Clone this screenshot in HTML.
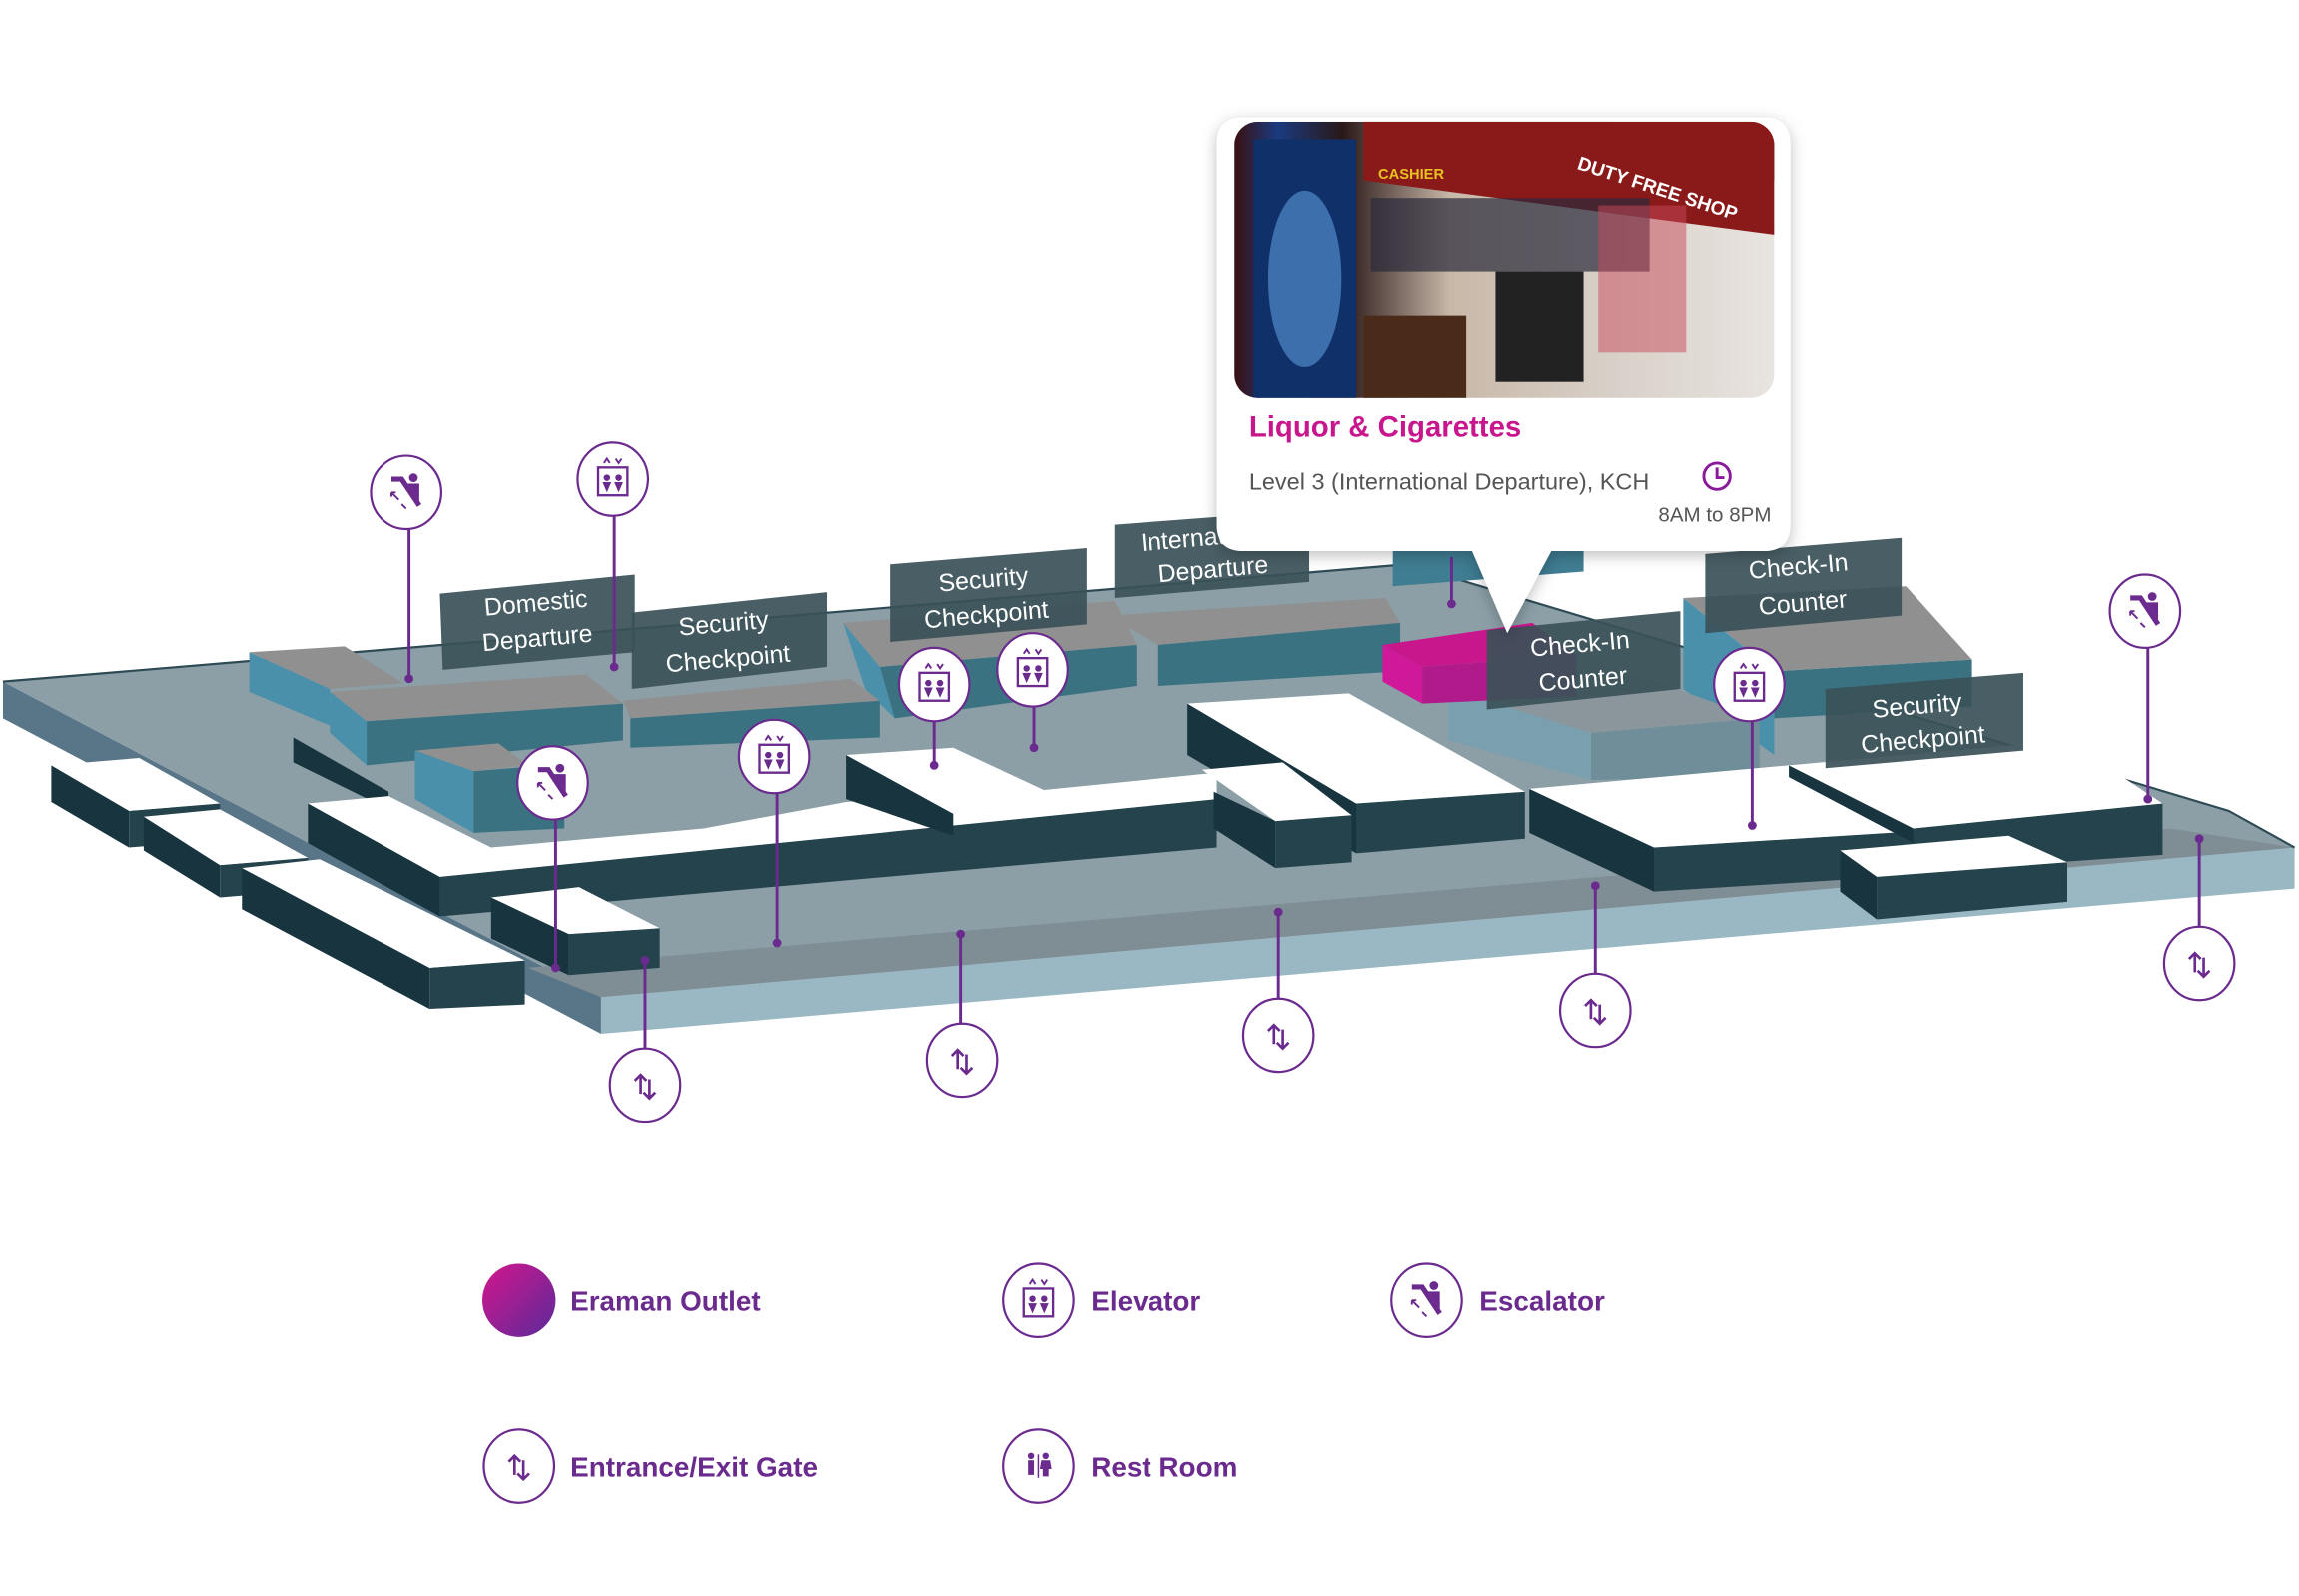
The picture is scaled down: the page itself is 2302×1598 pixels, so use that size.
<!DOCTYPE html>
<html><head><meta charset="utf-8"><style>
html,body{margin:0;padding:0;background:#fff;}
svg{display:block;}
.lbl{font-family:"Liberation Sans",sans-serif;font-size:17px;fill:#fff;}
.lg{font-family:"Liberation Sans",sans-serif;font-size:19px;font-weight:bold;fill:#6b2a8e;}
</style></head><body>
<svg width="2302" height="1598" viewBox="0 0 1568 1088.5" xmlns="http://www.w3.org/2000/svg">
<defs>
<linearGradient id="eg" x1="0" y1="0" x2="1" y2="1"><stop offset="0" stop-color="#d4168c"/><stop offset="1" stop-color="#5a2a9a"/></linearGradient>
<linearGradient id="img" x1="0" y1="0" x2="1" y2="0"><stop offset="0" stop-color="#3a1010"/><stop offset="0.08" stop-color="#1a3a80"/><stop offset="0.2" stop-color="#2a1818"/><stop offset="0.4" stop-color="#c8b8a8"/><stop offset="0.7" stop-color="#d8d0c8"/><stop offset="1" stop-color="#e8e4e0"/></linearGradient>
<clipPath id="ic"><rect x="842" y="83" width="368" height="188" rx="16"/></clipPath>
<filter id="sh" x="-10%" y="-10%" width="120%" height="130%"><feDropShadow dx="0" dy="3" stdDeviation="5" flood-opacity="0.25"/></filter>
<g id="esc"><path d="M-10,-9 L-3,-9 L9,9" stroke="#6b2a8e" stroke-width="3.5" fill="none"/><circle cx="5" cy="-10" r="3" fill="#6b2a8e"/><path d="M1,-6 L9,-6 L9,6 Z" fill="#6b2a8e"/><path d="M-10,0 l5,5 M-10,0 l0,3 M-10,0 l3,0 M-3,8 l3,3" stroke="#6b2a8e" stroke-width="1.3" fill="none"/></g>
<g id="elv"><rect x="-10" y="-8" width="20" height="19" fill="none" stroke="#6b2a8e" stroke-width="1.6"/><circle cx="-4" cy="-1" r="2.2" fill="#6b2a8e"/><circle cx="4" cy="-1" r="2.2" fill="#6b2a8e"/><path d="M-7,2 L-1,2 L-4,9Z M1,2 L7,2 L4,9Z" fill="#6b2a8e"/><path d="M-6,-11 l2,-3 l2,3 M2,-14 l2,3 l2,-3" stroke="#6b2a8e" stroke-width="1.3" fill="none"/></g>
<g id="gate"><path d="M-3,6 L-3,-7 M-7,-3 L-3,-7 L1,-3 M3,-4 L3,9 M-1,5 L3,9 L7,5" stroke="#6b2a8e" stroke-width="1.8" fill="none"/></g>
</defs>

<!-- floor slab -->
<polygon points="2,465 2,490 410,705 410,680" fill="#587688"/>
<polygon points="410,680 1565,578 1565,606 410,705" fill="#9ab7c4"/>
<polygon points="2,465 960,385 1520,553 1565,578 410,680" fill="#8c9fa7"/>
<polygon points="360,660 1480,565 1565,578 410,680" fill="#7f8d95"/>
<polyline points="2,465 960,385 1520,553 1565,578" fill="none" stroke="#2d4a55" stroke-width="1.5"/>

<!-- blue buildings -->
<g>
<polygon points="950,375 1080,372 1080,390 950,400" fill="#3f7d93"/>
<polygon points="575,425 760,410 775,440 600,455" fill="#909090"/>
<polygon points="600,455 775,440 775,468 610,490" fill="#3b7282"/>
<polygon points="575,425 600,455 610,490 590,470" fill="#4a90aa"/>
<polygon points="755,420 945,408 955,425 790,440" fill="#909090"/>
<polygon points="790,440 955,425 955,458 790,468" fill="#3b7282"/>
<polygon points="1148,408 1300,400 1345,450 1210,458" fill="#909090"/>
<polygon points="1210,458 1345,450 1345,482 1210,490" fill="#3b7282"/>
<polygon points="1148,408 1210,458 1210,515 1148,470" fill="#4a90aa"/>
<polygon points="170,445 235,441 275,466 225,470" fill="#909090"/>
<polygon points="170,445 225,470 225,495 170,472" fill="#4a90aa"/>
<polygon points="225,472 400,460 425,480 250,492" fill="#909090"/>
<polygon points="250,492 425,480 425,505 250,522" fill="#3b7282"/>
<polygon points="225,472 250,492 250,522 225,500" fill="#4a90aa"/>
<polygon points="425,478 580,463 600,478 430,490" fill="#909090"/>
<polygon points="430,490 600,478 600,503 430,510" fill="#3b7282"/>
<polygon points="283,512 340,507 360,522 323,526" fill="#909090"/>
<polygon points="323,526 385,521 385,565 323,568" fill="#3b7282"/>
<polygon points="283,512 323,526 323,568 283,545" fill="#4a90aa"/>
<polygon points="988,470 1100,455 1200,490 1085,500" fill="#8a969c"/>
<polygon points="1085,500 1200,490 1200,530 1085,532" fill="#6f8e9a"/>
<polygon points="988,470 1085,500 1085,532 988,505" fill="#7aa0b0"/>
<polygon points="943,440 1045,425 1075,447 970,455" fill="#c8168c"/>
<polygon points="970,455 1075,447 1075,475 970,480" fill="#b01a8a"/>
<polygon points="943,440 970,455 970,480 943,465" fill="#d0189a"/>
</g>

<!-- dark blocks -->
<g fill="#17343f">
<polygon points="35,522 88,553 88,578 35,547"/><polygon points="88,553 150,548 150,573 88,578" fill="#25434c"/><polygon points="35,522 95,517 150,548 88,553" fill="#fff"/>
<polygon points="98,557 150,590 150,612 98,580"/><polygon points="150,590 210,585 210,607 150,612" fill="#25434c"/><polygon points="98,557 150,552 210,585 150,590" fill="#fff"/>
<polygon points="165,592 293,660 293,688 165,620"/><polygon points="293,660 358,655 358,685 293,688" fill="#25434c"/><polygon points="165,592 218,586 358,655 293,660" fill="#fff"/>
<polygon points="200,503 265,540 265,552 200,520"/>
<polygon points="210,548 300,598 300,625 210,575"/>
<polygon points="300,598 830,545 830,578 300,625" fill="#25434c"/>
<polygon points="210,548 265,543 335,578 480,565 577,547 700,540 830,527 830,545 300,598" fill="#fff"/>
<polygon points="335,612 388,637 388,665 335,640"/><polygon points="388,637 450,633 450,660 388,665" fill="#25434c"/><polygon points="335,612 395,605 450,633 388,637" fill="#fff"/>
<polygon points="577,515 650,555 650,570 577,545"/><polygon points="577,515 650,510 725,545 650,555" fill="#fff"/>
<polygon points="810,480 925,548 925,582 810,515"/><polygon points="925,548 1040,540 1040,572 925,582" fill="#25434c"/><polygon points="810,480 920,473 1040,540 925,548" fill="#fff"/>
<polygon points="828,540 870,560 870,592 828,565"/><polygon points="870,560 922,556 922,588 870,592" fill="#25434c"/><polygon points="820,525 875,520 922,556 870,560" fill="#fff"/>
<polygon points="1043,538 1128,578 1128,608 1043,568"/><polygon points="1128,578 1305,567 1305,597 1128,608" fill="#25434c"/><polygon points="1043,538 1220,522 1305,567 1128,578" fill="#fff"/>
<polygon points="1220,522 1305,565 1305,575 1220,530"/><polygon points="1305,565 1475,548 1475,583 1305,595" fill="#25434c"/><polygon points="1220,522 1410,505 1475,548 1305,565" fill="#fff"/>
<polygon points="1255,580 1280,598 1280,627 1255,608"/><polygon points="1280,598 1410,588 1410,615 1280,627" fill="#25434c"/><polygon points="1255,580 1370,570 1410,588 1280,598" fill="#fff"/>
</g>

<!-- label panels -->
<g fill="#3a5158" fill-opacity="0.92">
<polygon points="300,405 433,392 433,445 302,457"/>
<polygon points="431,418 564,404 564,455 431,470"/>
<polygon points="607,385 741,374 741,426 607,438"/>
<polygon points="760,358 893,348 893,397 760,408"/>
<polygon points="1014,430 1146,417 1146,470 1014,484"/>
<polygon points="1163,378 1297,367 1297,420 1163,432"/>
<polygon points="1245,470 1380,459 1380,512 1245,524"/>
</g>
<g class="lbl" text-anchor="middle">
<text transform="translate(366,417) rotate(-5)">Domestic</text><text transform="translate(367,441) rotate(-5)">Departure</text>
<text transform="translate(494,431) rotate(-5)">Security</text><text transform="translate(497,455) rotate(-5)">Checkpoint</text>
<text transform="translate(671,401) rotate(-5)">Security</text><text transform="translate(673,425) rotate(-5)">Checkpoint</text>
<text transform="translate(825,372) rotate(-5)">International</text><text transform="translate(828,394) rotate(-5)">Departure</text>
<text transform="translate(1078,445) rotate(-5)">Check-In</text><text transform="translate(1080,469) rotate(-5)">Counter</text>
<text transform="translate(1227,392) rotate(-5)">Check-In</text><text transform="translate(1230,417) rotate(-5)">Counter</text>
<text transform="translate(1308,487) rotate(-5)">Security</text><text transform="translate(1312,510) rotate(-5)">Checkpoint</text>
</g>

<!-- pin lines -->
<g stroke="#6b2a8e" stroke-width="2" fill="#6b2a8e">
<line x1="279" y1="360" x2="279" y2="463"/><circle cx="279" cy="463" r="2"/>
<line x1="379" y1="558" x2="379" y2="660"/><circle cx="379" cy="660" r="2"/>
<line x1="1465" y1="441" x2="1465" y2="545"/><circle cx="1465" cy="545" r="2"/>
<line x1="419" y1="351" x2="419" y2="455"/><circle cx="419" cy="455" r="2"/>
<line x1="530" y1="540" x2="530" y2="643"/><circle cx="530" cy="643" r="2"/>
<line x1="637" y1="491" x2="637" y2="522"/><circle cx="637" cy="522" r="2"/>
<line x1="705" y1="481" x2="705" y2="510"/><circle cx="705" cy="510" r="2"/>
<line x1="1195" y1="491" x2="1195" y2="563"/><circle cx="1195" cy="563" r="2"/>
<line x1="440" y1="655" x2="440" y2="716"/><circle cx="440" cy="655" r="2"/>
<line x1="655" y1="637" x2="655" y2="699"/><circle cx="655" cy="637" r="2"/>
<line x1="872" y1="622" x2="872" y2="682"/><circle cx="872" cy="622" r="2"/>
<line x1="1088" y1="604" x2="1088" y2="665"/><circle cx="1088" cy="604" r="2"/>
<line x1="1500" y1="572" x2="1500" y2="633"/><circle cx="1500" cy="572" r="2"/>
<line x1="990" y1="380" x2="990" y2="412"/><circle cx="990" cy="412" r="2"/>
</g>
<!-- pins -->
<g fill="#fff" stroke="#6b2a8e" stroke-width="1.5">
<ellipse cx="277" cy="336" rx="24" ry="25"/><ellipse cx="377" cy="534" rx="24" ry="25"/><ellipse cx="1463" cy="417" rx="24" ry="25"/>
<ellipse cx="418" cy="327" rx="24" ry="25"/><ellipse cx="528" cy="516" rx="24" ry="25"/><ellipse cx="637" cy="467" rx="24" ry="25"/><ellipse cx="704" cy="457" rx="24" ry="25"/><ellipse cx="1193" cy="467" rx="24" ry="25"/>
<ellipse cx="440" cy="740" rx="24" ry="25"/><ellipse cx="656" cy="723" rx="24" ry="25"/><ellipse cx="872" cy="706" rx="24" ry="25"/><ellipse cx="1088" cy="689" rx="24" ry="25"/><ellipse cx="1500" cy="657" rx="24" ry="25"/>
</g>
<use href="#esc" x="277" y="336"/><use href="#esc" x="377" y="534"/><use href="#esc" x="1463" y="417"/>
<use href="#elv" x="418" y="327"/><use href="#elv" x="528" y="516"/><use href="#elv" x="637" y="467"/><use href="#elv" x="704" y="457"/><use href="#elv" x="1193" y="467"/>
<use href="#gate" x="440" y="740"/><use href="#gate" x="656" y="723"/><use href="#gate" x="872" y="706"/><use href="#gate" x="1088" y="689"/><use href="#gate" x="1500" y="657"/>

<!-- popup -->
<g filter="url(#sh)">
<path d="M848,80 H1203 Q1221,80 1221,98 V358 Q1221,376 1203,376 H1058 L1028,432 L1004,376 H848 Q830,376 830,358 V98 Q830,80 848,80 Z" fill="#fff"/>
</g>
<g clip-path="url(#ic)">
<rect x="842" y="83" width="368" height="188" fill="url(#img)"/>
<rect x="930" y="83" width="280" height="40" fill="#7a1818"/>
<polygon points="930,123 1210,160 1210,83 930,83" fill="#8a1a1a"/>
<rect x="855" y="95" width="70" height="176" fill="#10306a"/>
<ellipse cx="890" cy="190" rx="25" ry="60" fill="#5a9ad8" opacity="0.6"/>
<rect x="935" y="135" width="190" height="50" fill="#2a2a3a" opacity="0.7"/>
<rect x="1020" y="185" width="60" height="75" fill="#222"/>
<rect x="930" y="215" width="70" height="56" fill="#4a2a18"/>
<rect x="1090" y="140" width="60" height="100" fill="#c84a5a" opacity="0.5"/>
<text x="1075" y="115" font-family="Liberation Sans,sans-serif" font-size="13" font-weight="bold" fill="#fff" transform="rotate(18 1075 115)">DUTY FREE SHOP</text>
<text x="940" y="122" font-family="Liberation Sans,sans-serif" font-size="10" font-weight="bold" fill="#e8c020">CASHIER</text>
</g>
<text x="852" y="298" font-family="Liberation Sans,sans-serif" font-size="20" font-weight="bold" fill="#c8168c">Liquor &amp; Cigarettes</text>
<text x="852" y="334" font-family="Liberation Sans,sans-serif" font-size="16" fill="#555">Level 3 (International Departure), KCH</text>
<circle cx="1171" cy="325" r="9" fill="none" stroke="#8a1a9a" stroke-width="2"/><path d="M1171,319 V326 H1176" stroke="#8a1a9a" stroke-width="2" fill="none"/>
<text x="1208" y="356" text-anchor="end" font-family="Liberation Sans,sans-serif" font-size="14" fill="#555">8AM to 8PM</text>

<!-- legend -->
<circle cx="354" cy="887" r="25" fill="url(#eg)"/>
<text x="389" y="894" class="lg">Eraman Outlet</text>
<ellipse cx="708" cy="887" rx="24" ry="25" fill="#fff" stroke="#6b2a8e" stroke-width="1.5"/><use href="#elv" x="708" y="887"/>
<text x="744" y="894" class="lg">Elevator</text>
<ellipse cx="973" cy="887" rx="24" ry="25" fill="#fff" stroke="#6b2a8e" stroke-width="1.5"/><use href="#esc" x="973" y="887"/>
<text x="1009" y="894" class="lg">Escalator</text>
<ellipse cx="354" cy="1000" rx="24" ry="25" fill="#fff" stroke="#6b2a8e" stroke-width="1.5"/><use href="#gate" x="354" y="1000"/>
<text x="389" y="1007" class="lg">Entrance/Exit Gate</text>
<ellipse cx="708" cy="1000" rx="24" ry="25" fill="#fff" stroke="#6b2a8e" stroke-width="1.5"/>
<g fill="#6b2a8e"><circle cx="703" cy="993" r="2.2"/><circle cx="713" cy="993" r="2.2"/><rect x="701" y="996" width="4" height="10"/><path d="M710,996 h6 l1,6 h-8z M711,1002 h4 v5 h-4z"/><rect x="707.5" y="992" width="1" height="16"/></g>
<text x="744" y="1007" class="lg">Rest Room</text>
</svg>
</body></html>
